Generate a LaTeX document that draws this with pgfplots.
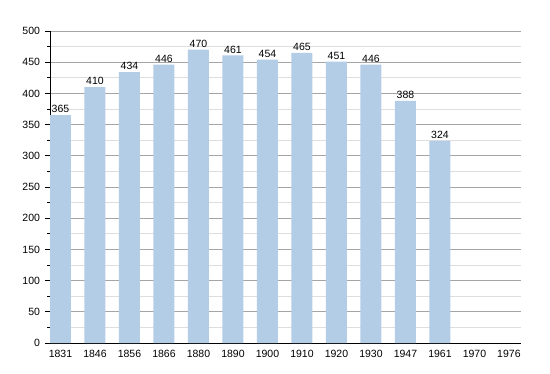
\documentclass[border=0pt]{standalone}
\usepackage{pgfplots}
\pgfplotsset{compat=1.18}
\usepackage{fontspec}
\setmainfont{Liberation Sans}
\definecolor{barblue}{RGB}{180,205,230}
\definecolor{majgrid}{RGB}{165,165,165}
\definecolor{mingrid}{RGB}{222,222,222}
\begin{document}
\begin{tikzpicture}[x=1pt,y=1pt]
\path[use as bounding box] (0,0) rectangle (550,373);
\begin{axis}[
  at={(50pt,30pt)}, anchor=south west,
  scale only axis, width=471pt, height=312pt,
  xmin=-0.304, xmax=13.35, ymin=0, ymax=500,
  axis x line*=bottom, axis y line*=left,
  axis line style={black, line width=0.9pt},
  xtick={0,...,13},
  xticklabels={1831,1846,1856,1866,1880,1890,1900,1910,1920,1930,1947,1961,1970,1976},
  major x tick style={draw=none},
  ytick={0,50,...,500},
  minor ytick={25,75,...,475},
  tick align=outside,
  major tick length=5pt, minor tick length=3pt,
  every tick/.style={black, line width=0.8pt},
  ymajorgrids, yminorgrids,
  major grid style={majgrid, line width=0.8pt},
  minor grid style={mingrid, line width=0.8pt},
  tick label style={font=\fontsize{10.5}{12}\selectfont},
  /pgf/number format/assume math mode=true,
  xticklabel style={yshift=1pt},
  yticklabel style={xshift=-1.5pt},
  ybar, bar width=21pt,
  nodes near coords,
  every node near coord/.append style={font=\fontsize{10.5}{12}\selectfont, black, inner sep=2pt},
]
\addplot[fill=barblue, draw=none] coordinates {
(0,365) (1,410) (2,434) (3,446) (4,470) (5,461) (6,454) (7,465) (8,451) (9,446) (10,388) (11,324)
};
\end{axis}
\end{tikzpicture}
\end{document}
